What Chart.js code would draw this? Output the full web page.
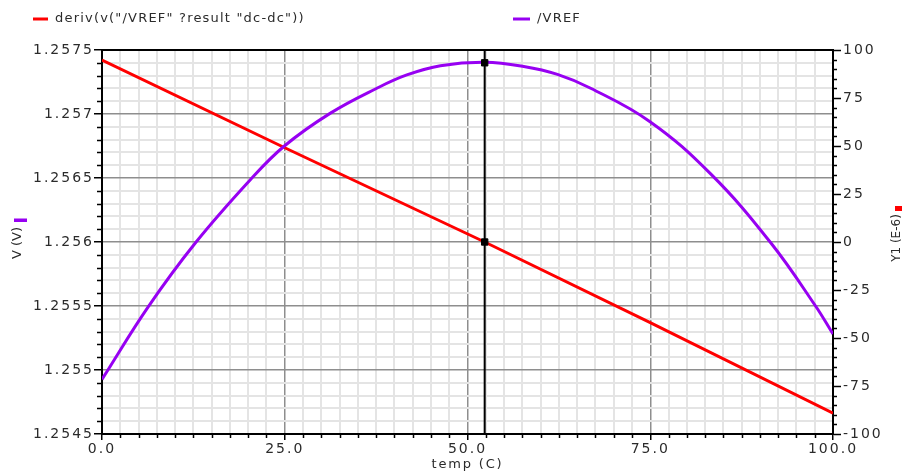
<!DOCTYPE html>
<html>
<head>
<meta charset="utf-8">
<script src="https://cdn.jsdelivr.net/npm/chart.js@4.4.1/dist/chart.umd.min.js"></script>
<style>
  html, body { margin: 0; padding: 0; background: #fff; }
</style>
</head>
<body>
<canvas id="chart" width="909" height="474"></canvas>
<script>
// /VREF sweep (temp in C, volts)
const vrefTemps = [0, 6.34, 12.74, 20.26, 24.95, 31.2, 37.6, 41.7, 46.3, 52.4, 57.7, 62.3, 66.85, 74.97, 83.3, 91.43, 97.59, 100];
const vrefValues = [1.254927, 1.255495, 1.255990, 1.256484, 1.256750, 1.257005, 1.257201, 1.257305, 1.257377, 1.257404,
                    1.257371, 1.257309, 1.257201, 1.256940, 1.256530, 1.255998, 1.255502, 1.255281];

// derivative, in E-6 on the right axis
const derivTemps = [0, 25, 52.35, 75, 100];
const derivValues = [94.8, 49.1, 0, -42, -89.2];

// cursor
const cursorTemp = 52.35;
const cursorVref = 1.2574;
const cursorDeriv = 0;

// tick labels
const xTickLabels = ['0.0', '25.0', '50.0', '75.0', '100.0'];
const leftTickLabels = ['1.2545', '1.255', '1.2555', '1.256', '1.2565', '1.257', '1.2575'];
const rightTickLabels = ['-100', '-75', '-50', '-25', '0', '25', '50', '75', '100'];

const legendLabels = ['deriv(v("/VREF" ?result "dc-dc"))', '/VREF'];

const RED = '#ff0000';
const PURPLE = '#9700f2';
const GRID_MAJOR = '#8e8e8e';
const GRID_MINOR = '#e4e4e4';
const TEXT = '#2b2b2b';

const xAxis = { min: 0, max: 100, step: 2.5, major: 25 };
const leftAxis = { min: 1.2545, max: 1.2575, step: 0.0001, major: 0.0005 };
const rightAxis = { min: -100, max: 100, step: 5, major: 25 };

function majorIndex(axis, value) {
    const k = (value - axis.min) / axis.major;
    return Math.abs(k - Math.round(k)) < 1e-6 ? Math.round(k) : -1;
}

function tickLabel(axis, labels) {
    return function(value) {
        const i = majorIndex(axis, value);
        return i >= 0 ? labels[i] : '';
    };
}

// light grid for minor ticks, darker for the majors
function gridColor(axis) {
    return ctx => majorIndex(axis, ctx.tick.value) >= 0 ? GRID_MAJOR : GRID_MINOR;
}
function gridWidth(axis) {
    return ctx => majorIndex(axis, ctx.tick.value) >= 0 ? 1.5 : 2;
}
function tickColor(axis) {
    return ctx => majorIndex(axis, ctx.tick.value) >= 0 ? '#000' : 'rgba(0,0,0,0)';
}

const decorations = {
    id: 'decorations',
    beforeDraw(chart) {
        chart.ctx.letterSpacing = '2px';
    },
    afterDraw(chart) {
        const ctx = chart.ctx;
        const area = chart.chartArea;
        ctx.save();
        ctx.letterSpacing = '0px';

        // minor tick marks
        ctx.strokeStyle = '#000';
        ctx.lineWidth = 1.5;
        ctx.beginPath();
        const sx = chart.scales.x;
        sx.ticks.forEach(t => {
            if (majorIndex(xAxis, t.value) >= 0) return;
            const px = Math.round(sx.getPixelForValue(t.value)) + 0.5;
            ctx.moveTo(px, area.bottom);
            ctx.lineTo(px, area.bottom + 4);
        });
        const sy = chart.scales.y;
        sy.ticks.forEach(t => {
            if (majorIndex(leftAxis, t.value) >= 0) return;
            const py = Math.round(sy.getPixelForValue(t.value)) + 0.5;
            ctx.moveTo(area.left - 5, py);
            ctx.lineTo(area.left, py);
        });
        const sy1 = chart.scales.y1;
        sy1.ticks.forEach(t => {
            if (majorIndex(rightAxis, t.value) >= 0) return;
            const py = Math.round(sy1.getPixelForValue(t.value)) + 0.5;
            ctx.moveTo(area.right, py);
            ctx.lineTo(area.right + 4, py);
        });
        ctx.stroke();

        // top border of the plot
        ctx.lineWidth = 2;
        ctx.beginPath();
        ctx.moveTo(area.left, area.top);
        ctx.lineTo(area.right, area.top);
        ctx.stroke();

        // legend
        ctx.font = '13px "DejaVu Sans"';
        ctx.letterSpacing = '1.2px';
        ctx.textBaseline = 'middle';
        ctx.textAlign = 'left';
        ctx.fillStyle = TEXT;
        ctx.lineWidth = 3;
        ctx.strokeStyle = RED;
        ctx.beginPath(); ctx.moveTo(33, 19); ctx.lineTo(48, 19); ctx.stroke();
        ctx.fillText(legendLabels[0], 55, 19);
        ctx.strokeStyle = PURPLE;
        ctx.beginPath(); ctx.moveTo(513, 19); ctx.lineTo(530, 19); ctx.stroke();
        ctx.fillText(legendLabels[1], 537, 19);

        // x title
        ctx.letterSpacing = '1.8px';
        ctx.textAlign = 'center';
        ctx.fillText('temp (C)', (area.left + area.right) / 2, 465);

        // left title
        ctx.letterSpacing = '0px';
        ctx.save();
        ctx.translate(18, 243);
        ctx.rotate(-Math.PI / 2);
        ctx.fillText('V (V)', 0, 0);
        ctx.restore();
        ctx.fillStyle = PURPLE;
        ctx.fillRect(14, 218.5, 13, 3.5);

        // right title
        ctx.fillStyle = TEXT;
        ctx.font = '12px "DejaVu Sans"';
        ctx.save();
        ctx.translate(897, 238);
        ctx.rotate(-Math.PI / 2);
        ctx.fillText('Y1 (E-6)', 0, 0);
        ctx.restore();
        ctx.fillStyle = RED;
        ctx.fillRect(895, 206, 7, 5);

        ctx.restore();
    }
};

Chart.defaults.font.family = '"DejaVu Sans"';
Chart.defaults.font.size = 14;
Chart.defaults.color = TEXT;

new Chart(document.getElementById('chart').getContext('2d'), {
    type: 'line',
    data: {
        datasets: [
            {
                label: 'cursor markers',
                data: [{ x: cursorTemp, y: cursorVref }],
                yAxisID: 'y',
                showLine: false,
                pointStyle: 'rect',
                pointRadius: 4.5,
                backgroundColor: '#000',
                borderColor: '#000',
                borderWidth: 1,
                order: 0
            },
            {
                label: 'cursor markers deriv',
                data: [{ x: cursorTemp, y: cursorDeriv }],
                yAxisID: 'y1',
                showLine: false,
                pointStyle: 'rect',
                pointRadius: 4.5,
                backgroundColor: '#000',
                borderColor: '#000',
                borderWidth: 1,
                order: 0
            },
            {
                label: 'cursor',
                data: [{ x: cursorTemp, y: leftAxis.min }, { x: cursorTemp, y: leftAxis.max }],
                yAxisID: 'y',
                borderColor: '#000',
                borderWidth: 2,
                pointRadius: 0,
                order: 1
            },
            {
                label: legendLabels[1],
                data: vrefTemps.map((t, i) => ({ x: t, y: vrefValues[i] })),
                yAxisID: 'y',
                borderColor: PURPLE,
                borderWidth: 3,
                pointRadius: 0,
                tension: 0.4,
                order: 2
            },
            {
                label: legendLabels[0],
                data: derivTemps.map((t, i) => ({ x: t, y: derivValues[i] })),
                yAxisID: 'y1',
                borderColor: RED,
                borderWidth: 3,
                pointRadius: 0,
                tension: 0,
                order: 3
            }
        ]
    },
    options: {
        responsive: false,
        animation: false,
        devicePixelRatio: 1,
        layout: { padding: { top: 50, left: 0, right: 0, bottom: 0 } },
        plugins: {
            legend: { display: false },
            tooltip: { enabled: false }
        },
        scales: {
            x: {
                type: 'linear',
                min: xAxis.min,
                max: xAxis.max,
                afterFit: scale => { scale.height = 40; },
                ticks: {
                    stepSize: xAxis.step,
                    autoSkip: false,
                    maxRotation: 0,
                    minRotation: 0,
                    padding: 1,
                    color: TEXT,
                    callback: tickLabel(xAxis, xTickLabels)
                },
                grid: {
                    color: gridColor(xAxis),
                    lineWidth: gridWidth(xAxis),
                    tickColor: tickColor(xAxis),
                    tickLength: 6,
                    tickWidth: 1.5
                },
                border: { color: '#000', width: 2 }
            },
            y: {
                type: 'linear',
                position: 'left',
                min: leftAxis.min,
                max: leftAxis.max,
                afterFit: scale => { scale.width = 102; },
                ticks: {
                    stepSize: leftAxis.step,
                    autoSkip: false,
                    padding: 0,
                    color: TEXT,
                    callback: tickLabel(leftAxis, leftTickLabels)
                },
                grid: {
                    color: gridColor(leftAxis),
                    lineWidth: gridWidth(leftAxis),
                    tickColor: tickColor(leftAxis),
                    tickLength: 8,
                    tickWidth: 1.5
                },
                border: { color: '#000', width: 2 }
            },
            y1: {
                type: 'linear',
                position: 'right',
                min: rightAxis.min,
                max: rightAxis.max,
                afterFit: scale => { scale.width = 76; },
                ticks: {
                    stepSize: rightAxis.step,
                    autoSkip: false,
                    padding: 2,
                    color: TEXT,
                    callback: tickLabel(rightAxis, rightTickLabels)
                },
                grid: {
                    drawOnChartArea: false,
                    tickColor: tickColor(rightAxis),
                    tickLength: 8,
                    tickWidth: 1.5
                },
                border: { color: '#000', width: 2 }
            }
        }
    },
    plugins: [decorations]
});
</script>
</body>
</html>
